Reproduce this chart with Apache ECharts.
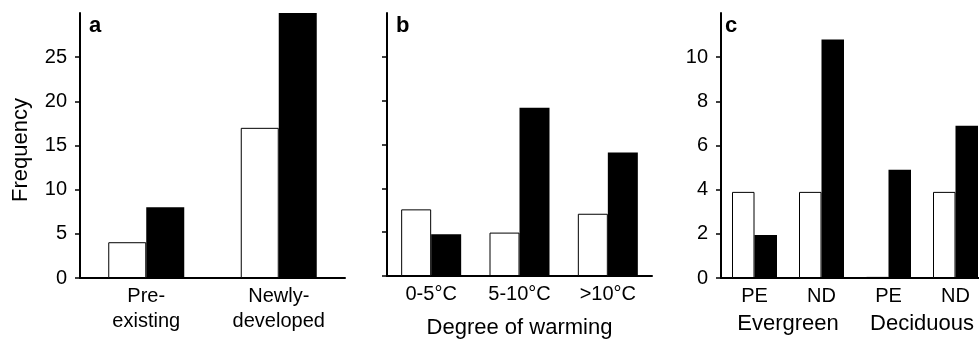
<!DOCTYPE html>
<html>
<head>
<meta charset="utf-8">
<script src="https://cdn.jsdelivr.net/npm/echarts@6/dist/echarts.min.js"></script>
<style>
html,body{margin:0;padding:0;background:#fff;overflow:hidden;}
#chart{width:990px;height:344px;}
</style>
</head>
<body>
<div id="chart"></div>
<script>
// ---- data ----
const catsA = ["Pre-\nexisting", "Newly-\ndeveloped"];
const openA = [4.05, 17];
const filledA = [8, 30];

const catsB = ["0-5°C", "5-10°C", ">10°C"];
const openB = [7.6, 4.95, 7.1];
const filledB = [4.75, 19.2, 14.1];

const catsC = ["PE", "ND", "PE", "ND"];
const groupsC = ["Evergreen", "Deciduous"];
const openC = [3.9, 3.9, 0.05, 3.9];
const filledC = [1.95, 10.8, 4.9, 6.9];

const ticksAB = [0, 5, 10, 15, 20, 25];
const ticksC = [0, 2, 4, 6, 8, 10];

const panelLetters = ["a", "b", "c"];
const xTitleB = "Degree of warming";
const yTitle = "Frequency";

// ---- chart ----
const FONT = "Liberation Sans, Arial, sans-serif";
const FS = 20;
const FT = 22;
const chart = echarts.init(document.getElementById('chart'), null, {renderer: 'canvas'});

const axisLine = {show: true, lineStyle: {color: '#000', width: 2}};

function yAxis(idx, max, interval, ticks, showLabels, extra) {
  return Object.assign({
    type: 'value', gridIndex: idx, min: 0, max: max, interval: interval,
    axisLine: axisLine,
    axisTick: {show: true, inside: false, length: 5, lineStyle: {color: '#000', width: 1.5}, customValues: ticks},
    axisLabel: {show: showLabels, customValues: ticks, color: '#000', fontSize: FS, fontFamily: FONT, margin: 13},
    splitLine: {show: false}
  }, extra || {});
}

function xAxis(idx, cats, extra) {
  return Object.assign({
    type: 'category', gridIndex: idx, data: cats,
    axisLine: axisLine,
    axisTick: {show: false},
    axisLabel: {color: '#000', fontSize: FS, fontFamily: FONT, lineHeight: 25, margin: 6, interval: 0}
  }, extra || {});
}

function bars(idx, open, filled, width) {
  return [
    {type: 'bar', name: 'Open', xAxisIndex: idx, yAxisIndex: idx, data: open, barWidth: width, barGap: '0%',
     itemStyle: {color: '#fff', borderColor: '#000', borderWidth: 1}, silent: true},
    {type: 'bar', name: 'Filled', xAxisIndex: idx, yAxisIndex: idx, data: filled, barWidth: width, barGap: '0%',
     itemStyle: {color: '#000'}, silent: true}
  ];
}

const letterStyle = {fontSize: 22, fontWeight: 'bold', color: '#000', fontFamily: FONT};

const option = {
  animation: false,
  backgroundColor: '#fff',
  textStyle: {fontFamily: FONT},
  title: [
    {text: panelLetters[0], left: 89, top: 15, padding: 0, textStyle: letterStyle},
    {text: panelLetters[1], left: 396, top: 15, padding: 0, textStyle: letterStyle},
    {text: panelLetters[2], left: 725, top: 15, padding: 0, textStyle: letterStyle}
  ],
  grid: [
    {left: 80, top: 13, width: 265, height: 265},
    {left: 387, top: 13, width: 265, height: 265},
    {left: 721, top: 13, width: 268, height: 265}
  ],
  xAxis: [
    xAxis(0, catsA),
    xAxis(1, catsB, {name: xTitleB, nameLocation: 'middle', nameGap: 41,
      nameTextStyle: {color: '#000', fontSize: FT, fontFamily: FONT}}),
    xAxis(2, catsC),
    {type: 'category', gridIndex: 2, data: groupsC, position: 'bottom', offset: 30,
     axisLine: {show: false}, axisTick: {show: false},
     axisLabel: {color: '#000', fontSize: FT, fontFamily: FONT, margin: 5, interval: 0}}
  ],
  yAxis: [
    yAxis(0, 30, 5, ticksAB, true, {name: yTitle, nameLocation: 'middle', nameGap: 48,
      nameTextStyle: {color: '#000', fontSize: FT, fontFamily: FONT, padding: [0, 9, 0, 0]}}),
    yAxis(1, 30, 5, ticksAB, false),
    yAxis(2, 12, 2, ticksC, true)
  ],
  series: [].concat(
    bars(0, openA, filledA, 38),
    bars(1, openB, filledB, 30),
    bars(2, openC, filledC, 22.5)
  )
};
chart.setOption(option);
</script>
</body>
</html>
